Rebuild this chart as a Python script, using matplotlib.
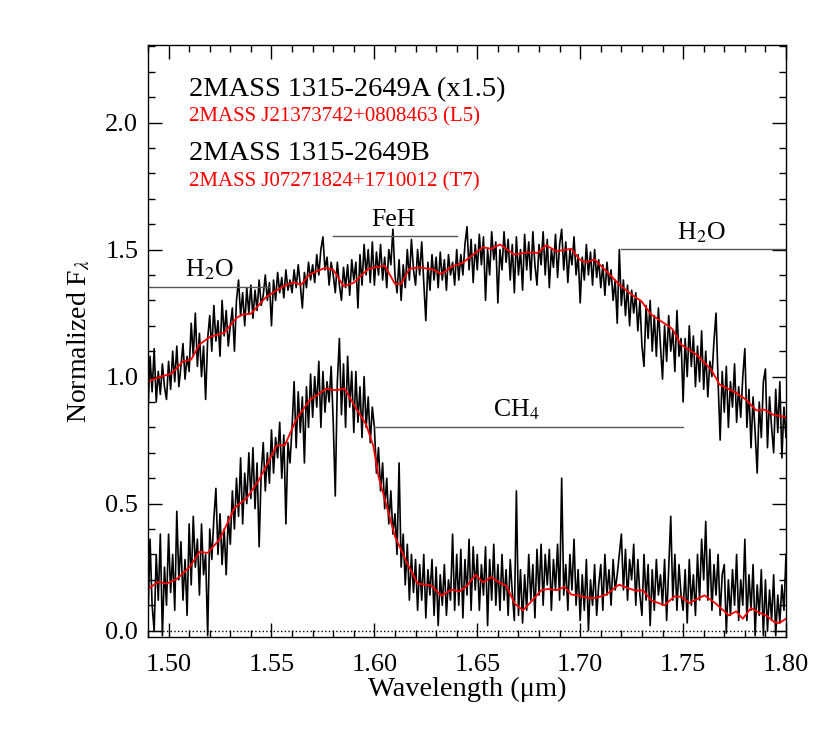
"""Near-infrared spectra of 2MASS 1315-2649 A and B with spectral standards."""

import matplotlib
matplotlib.use("Agg")
import matplotlib.pyplot as plt
from matplotlib.ticker import MultipleLocator

plt.rcParams["font.family"] = ["Liberation Serif", "DejaVu Serif"]
plt.rcParams["mathtext.fontset"] = "stix"

# wavelength grid of the observed spectra (micron)
wave = [
    1.490, 1.491, 1.492, 1.493, 1.494, 1.495, 1.496, 1.497, 1.498, 1.499,
    1.500, 1.501, 1.502, 1.503, 1.504, 1.505, 1.506, 1.507, 1.508, 1.509,
    1.510, 1.511, 1.512, 1.513, 1.514, 1.515, 1.516, 1.517, 1.518, 1.519,
    1.520, 1.521, 1.522, 1.523, 1.524, 1.525, 1.526, 1.527, 1.528, 1.529,
    1.530, 1.531, 1.532, 1.533, 1.534, 1.535, 1.536, 1.537, 1.538, 1.539,
    1.540, 1.541, 1.542, 1.543, 1.544, 1.545, 1.546, 1.547, 1.548, 1.549,
    1.550, 1.551, 1.552, 1.553, 1.554, 1.555, 1.556, 1.557, 1.558, 1.559,
    1.560, 1.561, 1.562, 1.563, 1.564, 1.565, 1.566, 1.567, 1.568, 1.569,
    1.570, 1.571, 1.572, 1.573, 1.574, 1.575, 1.576, 1.577, 1.578, 1.579,
    1.580, 1.581, 1.582, 1.583, 1.584, 1.585, 1.586, 1.587, 1.588, 1.589,
    1.590, 1.591, 1.592, 1.593, 1.594, 1.595, 1.596, 1.597, 1.598, 1.599,
    1.600, 1.601, 1.602, 1.603, 1.604, 1.605, 1.606, 1.607, 1.608, 1.609,
    1.610, 1.611, 1.612, 1.613, 1.614, 1.615, 1.616, 1.617, 1.618, 1.619,
    1.620, 1.621, 1.622, 1.623, 1.624, 1.625, 1.626, 1.627, 1.628, 1.629,
    1.630, 1.631, 1.632, 1.633, 1.634, 1.635, 1.636, 1.637, 1.638, 1.639,
    1.640, 1.641, 1.642, 1.643, 1.644, 1.645, 1.646, 1.647, 1.648, 1.649,
    1.650, 1.651, 1.652, 1.653, 1.654, 1.655, 1.656, 1.657, 1.658, 1.659,
    1.660, 1.661, 1.662, 1.663, 1.664, 1.665, 1.666, 1.667, 1.668, 1.669,
    1.670, 1.671, 1.672, 1.673, 1.674, 1.675, 1.676, 1.677, 1.678, 1.679,
    1.680, 1.681, 1.682, 1.683, 1.684, 1.685, 1.686, 1.687, 1.688, 1.689,
    1.690, 1.691, 1.692, 1.693, 1.694, 1.695, 1.696, 1.697, 1.698, 1.699,
    1.700, 1.701, 1.702, 1.703, 1.704, 1.705, 1.706, 1.707, 1.708, 1.709,
    1.710, 1.711, 1.712, 1.713, 1.714, 1.715, 1.716, 1.717, 1.718, 1.719,
    1.720, 1.721, 1.722, 1.723, 1.724, 1.725, 1.726, 1.727, 1.728, 1.729,
    1.730, 1.731, 1.732, 1.733, 1.734, 1.735, 1.736, 1.737, 1.738, 1.739,
    1.740, 1.741, 1.742, 1.743, 1.744, 1.745, 1.746, 1.747, 1.748, 1.749,
    1.750, 1.751, 1.752, 1.753, 1.754, 1.755, 1.756, 1.757, 1.758, 1.759,
    1.760, 1.761, 1.762, 1.763, 1.764, 1.765, 1.766, 1.767, 1.768, 1.769,
    1.770, 1.771, 1.772, 1.773, 1.774, 1.775, 1.776, 1.777, 1.778, 1.779,
    1.780, 1.781, 1.782, 1.783, 1.784, 1.785, 1.786, 1.787, 1.788, 1.789,
    1.790, 1.791, 1.792, 1.793, 1.794, 1.795, 1.796, 1.797, 1.798, 1.799,
    1.800,
]

# 2MASS 1315-2649A, scaled x1.5
flux_a = [
    0.86, 1.08, 0.94, 1.11, 0.90, 1.02, 0.93, 1.05, 0.96, 0.91,
    1.06, 0.95, 1.10, 0.98, 1.12, 0.96, 1.04, 1.13, 0.99, 1.08,
    1.02, 1.21, 1.08, 1.25, 1.04, 1.17, 1.00, 1.12, 0.91, 1.15,
    1.24, 1.10, 1.28, 1.14, 1.22, 1.08, 1.30, 1.16, 1.26, 1.12,
    1.20, 1.27, 1.10, 1.30, 1.38, 1.24, 1.33, 1.20, 1.35, 1.25,
    1.36, 1.23, 1.34, 1.26, 1.38, 1.28, 1.32, 1.40, 1.30, 1.37,
    1.20, 1.38, 1.30, 1.41, 1.33, 1.39, 1.31, 1.42, 1.34, 1.38,
    1.33, 1.42, 1.35, 1.44, 1.36, 1.27, 1.41, 1.35, 1.45, 1.38,
    1.44, 1.37, 1.48, 1.40, 1.50, 1.55, 1.42, 1.47, 1.36, 1.45,
    1.40, 1.33, 1.45, 1.36, 1.30, 1.43, 1.35, 1.44, 1.32, 1.46,
    1.38, 1.45, 1.27, 1.48, 1.36, 1.52, 1.40, 1.50, 1.37, 1.53,
    1.36, 1.49, 1.40, 1.52, 1.38, 1.47, 1.35, 1.50, 1.44, 1.58,
    1.40, 1.33, 1.46, 1.30, 1.44, 1.35, 1.50, 1.38, 1.54, 1.42,
    1.36, 1.50, 1.40, 1.53, 1.37, 1.22, 1.45, 1.34, 1.48, 1.38,
    1.47, 1.35, 1.49, 1.38, 1.46, 1.34, 1.48, 1.40, 1.45, 1.36,
    1.50, 1.38, 1.48, 1.40, 1.52, 1.59, 1.42, 1.54, 1.37, 1.52,
    1.42, 1.56, 1.44, 1.55, 1.30, 1.50, 1.40, 1.57, 1.46, 1.53,
    1.29, 1.50, 1.42, 1.57, 1.45, 1.54, 1.38, 1.52, 1.33, 1.55,
    1.40, 1.50, 1.34, 1.56, 1.42, 1.53, 1.38, 1.57, 1.44, 1.36,
    1.52, 1.44, 1.57, 1.40, 1.54, 1.35, 1.50, 1.43, 1.56, 1.39,
    1.52, 1.58, 1.42, 1.53, 1.37, 1.50, 1.44, 1.55, 1.40, 1.48,
    1.29, 1.47, 1.38, 1.52, 1.40, 1.49, 1.36, 1.50, 1.39, 1.46,
    1.35, 1.44, 1.32, 1.45, 1.36, 1.42, 1.30, 1.38, 1.21, 1.50,
    1.28, 1.38, 1.24, 1.36, 1.20, 1.34, 1.25, 1.33, 1.18, 1.30,
    1.12, 1.04, 1.28, 1.15, 1.30, 1.10, 1.24, 1.08, 1.27, 1.12,
    0.99, 1.20, 1.06, 1.24, 1.10, 1.18, 1.02, 1.26, 1.08, 1.15,
    0.90, 1.15, 1.00, 1.20, 1.04, 1.16, 0.96, 1.12, 0.98, 1.18,
    0.95, 1.10, 0.92, 1.06, 1.00, 1.14, 1.25, 0.98, 0.75, 1.02,
    0.86, 1.04, 0.80, 0.98, 0.88, 1.05, 0.82, 0.96, 0.84, 1.00,
    1.11, 0.80, 0.95, 0.72, 0.92, 0.78, 0.62, 0.90, 0.76, 0.98,
    1.03, 0.72, 0.92, 0.80, 0.70, 0.95, 0.78, 0.98, 0.68, 0.88,
    0.76,
]

# 2MASS 1315-2649B
flux_b = [
    0.05, 0.36, 0.10, 0.00, 0.30, 0.12, 0.38, -0.02, 0.25, 0.10,
    0.38, 0.15, 0.30, 0.08, 0.47, 0.20, 0.35, 0.12, 0.28, 0.06,
    0.42, 0.18, 0.45, 0.25, 0.36, 0.14, 0.42, 0.22, 0.30, -0.02,
    0.40, 0.28, 0.44, 0.56, 0.30, 0.46, 0.26, 0.40, 0.22, 0.45,
    0.34, 0.55, 0.40, 0.60, 0.45, 0.68, 0.42, 0.62, 0.50, 0.70,
    0.52, 0.72, 0.48, 0.66, 0.33, 0.62, 0.74, 0.55, 0.70, 0.58,
    0.79, 0.62, 0.76, 0.68, 0.82, 0.60, 0.77, 0.42, 0.74, 0.66,
    0.80, 0.98, 0.72, 0.94, 0.78, 0.92, 0.66, 0.96, 0.80, 1.01,
    0.84, 1.00, 0.88, 1.06, 0.80, 1.02, 0.86, 0.98, 0.90, 1.04,
    0.82, 0.53, 0.98, 1.15, 0.85, 1.05, 0.80, 1.08, 0.88, 1.02,
    0.78, 1.02, 0.82, 0.96, 0.76, 1.00, 0.80, 0.92, 0.74, 0.88,
    0.80, 0.62, 0.72, 0.55, 0.66, 0.48, 0.60, 0.42, 0.55, 0.38,
    0.46, 0.30, 0.66, 0.25, 0.38, 0.18, 0.34, 0.12, 0.30, 0.15,
    0.28, 0.08, 0.26, 0.12, 0.30, 0.05, 0.24, 0.14, 0.28, 0.06,
    0.25, 0.02, 0.22, 0.10, 0.26, 0.06, 0.20, 0.12, 0.38, 0.08,
    0.30, 0.10, 0.32, 0.05, 0.28, 0.14, 0.36, 0.08, 0.33, 0.16,
    0.30, 0.08, 0.26, 0.14, 0.33, 0.02, 0.28, 0.12, 0.34, 0.10,
    0.26, 0.08, 0.30, 0.12, 0.24, 0.06, 0.28, 0.15, 0.04, 0.55,
    0.06, 0.24, 0.03, 0.22, 0.08, 0.30, 0.12, 0.26, 0.05, 0.32,
    0.14, 0.34, 0.10, 0.30, 0.18, 0.32, 0.08, 0.28, 0.16, 0.34,
    0.12, 0.60, 0.14, 0.26, 0.08, 0.30, 0.16, 0.36, 0.10, 0.24,
    0.04, 0.22, 0.08, 0.28, 0.00, 0.20, 0.10, 0.26, 0.06, 0.18,
    0.26, 0.08, 0.30, 0.14, 0.24, 0.10, 0.28, 0.16, 0.22, 0.30,
    0.38, 0.16, 0.32, 0.12, 0.28, 0.20, 0.34, 0.10, 0.28, 0.14,
    0.06, 0.30, 0.12, 0.26, 0.02, 0.24, 0.08, 0.28, 0.14, 0.22,
    0.10, 0.28, 0.04, 0.24, 0.45, 0.12, 0.30, 0.08, 0.26, 0.14,
    0.08, 0.24, 0.03, 0.28, 0.10, 0.22, 0.06, 0.30, 0.12, 0.36,
    0.20, 0.43, 0.12, 0.32, 0.08, 0.26, 0.14, 0.30, 0.06, 0.22,
    0.26, -0.01, 0.20, 0.06, 0.24, 0.10, 0.30, 0.04, 0.20, 0.10,
    0.36, 0.04, 0.22, 0.08, 0.26, -0.02, 0.18, 0.06, 0.24, -0.02,
    0.20, 0.00, 0.16, 0.04, 0.22, -0.02, 0.14, 0.03, 0.18, 0.08,
    0.30,
]

# L5 standard 2MASS J21373742+0808463
std_l5_wave = [
    1.489, 1.496, 1.5015, 1.507, 1.511, 1.515, 1.520, 1.527, 1.533, 1.536,
    1.540, 1.547, 1.551, 1.556, 1.5605, 1.5645, 1.5685, 1.576, 1.580, 1.585,
    1.590, 1.597, 1.605, 1.610, 1.613, 1.617, 1.622, 1.6285, 1.6325, 1.638,
    1.643, 1.647, 1.6528, 1.6568, 1.661, 1.668, 1.674, 1.6795, 1.6835, 1.6884,
    1.6957, 1.6997, 1.703, 1.707, 1.7127, 1.719, 1.7256, 1.7297, 1.7345, 1.7434,
    1.745, 1.749, 1.7564, 1.7636, 1.7677, 1.7758, 1.7806, 1.7855, 1.7895, 1.7936,
    1.800,
]
std_l5_flux = [
    0.978, 0.999, 1.012, 1.060, 1.067, 1.126, 1.156, 1.172, 1.231, 1.244,
    1.247, 1.310, 1.332, 1.356, 1.371, 1.362, 1.402, 1.428, 1.421, 1.356,
    1.369, 1.424, 1.437, 1.365, 1.365, 1.424, 1.430, 1.421, 1.404, 1.434,
    1.448, 1.474, 1.509, 1.503, 1.520, 1.480, 1.489, 1.487, 1.517, 1.493,
    1.503, 1.461, 1.450, 1.461, 1.415, 1.362, 1.319, 1.297, 1.244, 1.196,
    1.185, 1.126, 1.087, 1.028, 0.969, 0.936, 0.909, 0.867, 0.870, 0.850,
    0.841,
]

# T7 standard 2MASS J07271824+1710012
std_t7_wave = [
    1.489, 1.495, 1.499, 1.504, 1.5105, 1.515, 1.519, 1.525, 1.532, 1.538,
    1.544, 1.5525, 1.5565, 1.562, 1.5685, 1.5765, 1.5815, 1.5855, 1.5905, 1.596,
    1.5995, 1.602, 1.606, 1.610, 1.6155, 1.621, 1.6275, 1.6325, 1.6375, 1.6415,
    1.6447, 1.6492, 1.6528, 1.6568, 1.6609, 1.6641, 1.6682, 1.6722, 1.6763, 1.6811,
    1.6844, 1.6884, 1.6924, 1.6957, 1.6989, 1.7037, 1.7078, 1.7127, 1.7188, 1.724,
    1.7272, 1.7305, 1.7345, 1.741, 1.7458, 1.7491, 1.7531, 1.7604, 1.766, 1.7722,
    1.7758, 1.779, 1.783, 1.7871, 1.7903, 1.7944, 1.7968, 1.800,
]
std_t7_flux = [
    0.159, 0.192, 0.185, 0.203, 0.253, 0.310, 0.306, 0.361, 0.483, 0.522,
    0.594, 0.728, 0.730, 0.831, 0.907, 0.952, 0.946, 0.953, 0.883, 0.811,
    0.726, 0.607, 0.489, 0.371, 0.273, 0.185, 0.178, 0.138, 0.161, 0.155,
    0.174, 0.220, 0.190, 0.211, 0.188, 0.177, 0.106, 0.080, 0.115, 0.159,
    0.164, 0.159, 0.172, 0.142, 0.139, 0.129, 0.129, 0.142, 0.181, 0.165,
    0.157, 0.159, 0.119, 0.100, 0.135, 0.133, 0.109, 0.139, 0.106, 0.060,
    0.076, 0.047, 0.089, 0.070, 0.060, 0.033, 0.030, 0.047,
]

# absorption bands: (label, start, end, level, label x, label y)
bands = [
    ("H$_2$O", 1.490, 1.549, 1.354, 1.520, 1.394),
    ("FeH", 1.580, 1.640, 1.555, 1.609, 1.594),
    ("H$_2$O", 1.720, 1.800, 1.504, 1.759, 1.539),
    ("CH$_4$", 1.600, 1.750, 0.803, 1.669, 0.843),
]

legend_lines = [
    ("2MASS 1315-2649A (x1.5)", "black", 20.5, 2.102),
    ("2MASS J21373742+0808463 (L5)", "red", 15, 2.004),
    ("2MASS 1315-2649B", "black", 20.5, 1.854),
    ("2MASS J07271824+1710012 (T7)", "red", 15, 1.748),
]

fig = plt.figure(figsize=(8.30, 7.31), dpi=100)
ax = fig.add_axes([0.1783, 0.1286, 0.7687, 0.8098])

ax.plot(wave, flux_a, color="black", linewidth=1.2)
ax.plot(std_l5_wave, std_l5_flux, color="red", linewidth=1.3)
ax.plot(wave, flux_b, color="black", linewidth=1.2)
ax.plot(std_t7_wave, std_t7_flux, color="red", linewidth=1.3)
ax.axhline(0.0, color="black", linestyle=":", linewidth=1.0)

for label, x0, x1, level, tx, ty in bands:
    ax.plot([x0, x1], [level, level], color="#555555", linewidth=1.0)
    ax.text(tx, ty, label, ha="center", va="baseline", fontsize=18.5)

for text, color, size, ty in legend_lines:
    ax.text(1.510, ty, text, color=color, fontsize=size, ha="left", va="baseline")

ax.set_xlim(1.49, 1.80)
ax.set_ylim(-0.025, 2.305)
ax.xaxis.set_major_locator(MultipleLocator(0.05))
ax.xaxis.set_minor_locator(MultipleLocator(0.01))
ax.yaxis.set_major_locator(MultipleLocator(0.5))
ax.yaxis.set_minor_locator(MultipleLocator(0.1))
ax.xaxis.set_major_formatter(lambda v, p: f"{v:.2f}")
ax.yaxis.set_major_formatter(lambda v, p: f"{v:.1f}")
ax.tick_params(which="both", direction="in", top=True, right=True, width=1.0)
ax.tick_params(which="major", length=10, labelsize=19)
ax.tick_params(which="minor", length=5)
ax.tick_params(axis="x", which="major", pad=12)
ax.tick_params(axis="y", which="major", pad=7)
for side in ax.spines.values():
    side.set_linewidth(1.0)

ax.set_xlabel("Wavelength (\u03bcm)", fontsize=20.5, labelpad=1)
ax.set_ylabel("Normalized F$_{\\lambda}$", fontsize=20, labelpad=9)

fig.savefig("out.png", dpi=100)
